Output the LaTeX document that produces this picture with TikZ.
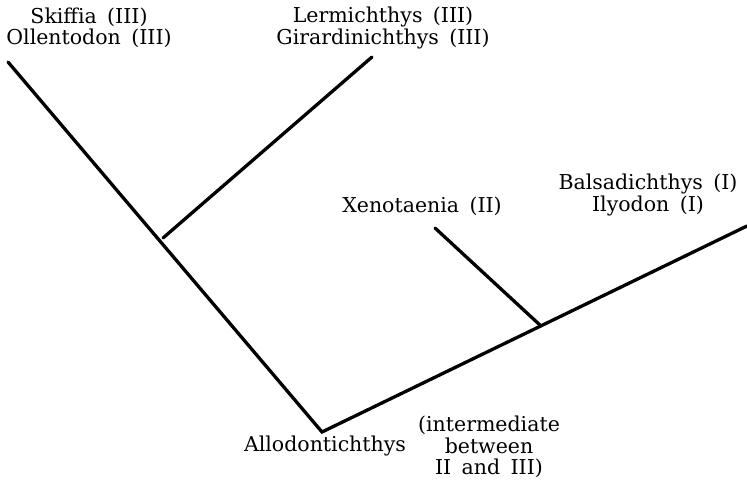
\documentclass[tikz,border=0pt]{standalone}
\usepackage{fontspec}
\setmainfont[WordSpace={1.6,0,0}]{DejaVu Serif}
\begin{document}
\begin{tikzpicture}[x=1pt,y=-1pt,
  branch/.style={line width=3.3pt,line cap=round},
  taxon/.style={font=\fontsize{20.5}{21.5}\selectfont,inner sep=0pt,align=center}]
\useasboundingbox (0,0) rectangle (747,481);
% branch points and tips
\coordinate (root) at (322,432);
\coordinate (lefttip) at (8,62);
\coordinate (leftfork) at (163,238);
\coordinate (lermtip) at (372,57);
\coordinate (righttip) at (747,226);
\coordinate (rightfork) at (541,326);
\coordinate (xenotip) at (435,228);
% tree
\draw[branch] (lefttip) -- (root) -- (righttip);
\draw[branch] (leftfork) -- (lermtip);
\draw[branch] (rightfork) -- (xenotip);
% labels
\node[taxon] (skiffia) at (89,28) {Skiffia (III)\\Ollentodon (III)};
\node[taxon] (lerm) at (383,28) {Lermichthys (III)\\Girardinichthys (III)};
\node[taxon] (xeno) at (422,206) {Xenotaenia (II)};
\node[taxon] (balsa) at (648,195) {Balsadichthys (I)\\Ilyodon (I)};
\node[taxon] (allo) at (325,446) {Allodontichthys};
\node[taxon] (inter) at (489,447) {(intermediate\\between\\II and III)};
\end{tikzpicture}
\end{document}
